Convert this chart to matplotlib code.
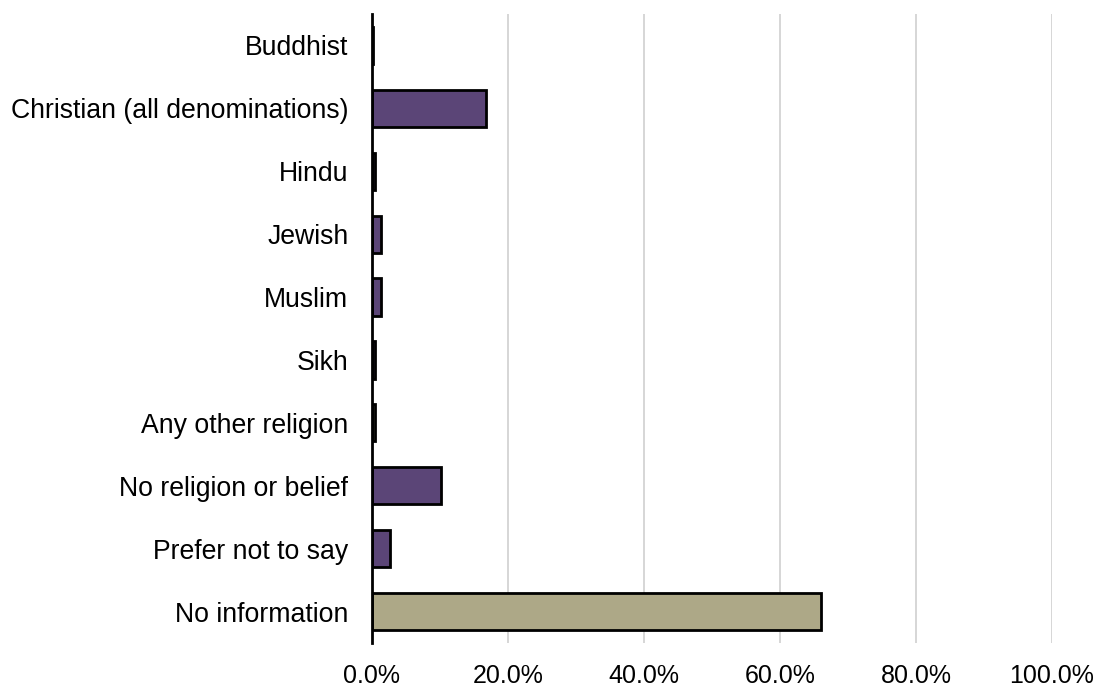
import matplotlib
matplotlib.use("Agg")
import matplotlib.pyplot as plt
from matplotlib.ticker import FuncFormatter

categories = [
    "Buddhist",
    "Christian (all denominations)",
    "Hindu",
    "Jewish",
    "Muslim",
    "Sikh",
    "Any other religion",
    "No religion or belief",
    "Prefer not to say",
    "No information",
]
shares = [0.2, 16.7, 0.5, 1.3, 1.3, 0.4, 0.5, 10.1, 2.6, 66.1]
colours = ["#5B4577", "#5B4577", "#5B4577", "#5B4577", "#5B4577", "#5B4577",
           "#ADA887", "#5B4577", "#5B4577", "#ADA887"]

plt.rcParams["font.family"] = ["Liberation Sans", "DejaVu Sans"]

fig = plt.figure(figsize=(11.01, 6.86), dpi=100)
ax = fig.add_axes([372 / 1101, 1 - 643 / 686, (1052 - 372) / 1101, (643 - 14) / 686])

ypos = list(range(len(categories)))
ax.barh(ypos, shares, height=0.59, color=colours, edgecolor="black", linewidth=2, zorder=3)

ax.set_ylim(len(categories) - 0.5, -0.5)
ax.set_xlim(0, 100)
ax.set_yticks(ypos)
ax.set_yticklabels(categories, fontsize=19.2)
ax.set_xticks([0, 20, 40, 60, 80, 100])
ax.xaxis.set_major_formatter(FuncFormatter(lambda v, _: f"{v:.1f}%"))
ax.tick_params(axis="x", labelsize=18, length=0, pad=15)
ax.tick_params(axis="y", length=0, pad=17)

ax.grid(axis="x", color="#D0D0D0", linewidth=1.2, zorder=0)
for side in ("top", "right", "bottom"):
    ax.spines[side].set_visible(False)
ax.spines["left"].set_linewidth(2)
ax.spines["left"].set_zorder(4)

fig.savefig("out.png", dpi=100)
